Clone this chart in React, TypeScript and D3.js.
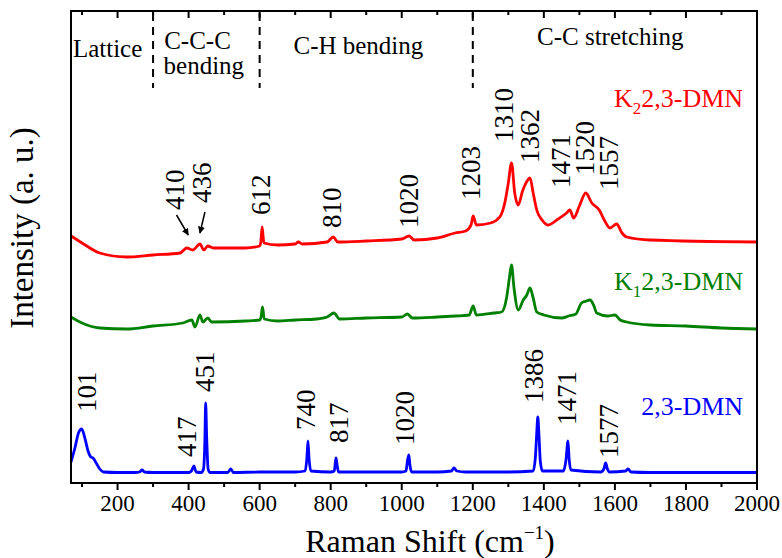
import React from 'react';
import * as d3 from 'd3';

// Raman spectra, [wavenumber (cm-1), intensity (a.u., stacked offsets included)]
const pureDMN: [number, number][] = [
  [69, 21], [80, 35], [90, 50], [99, 54], [108, 45], [117, 32], [125, 26], [131, 25],
  [140, 20], [150, 14], [160, 11], [200, 10.5], [250, 10.5], [262, 11], [269, 13], [276, 11],
  [300, 10.5], [400, 10.5], [408, 12], [415, 17], [421, 11], [436, 10.5], [442, 14], [446, 45],
  [448, 80], [451, 45], [455, 14], [460, 10.5], [510, 10.5], [519, 14], [526, 10.5], [600, 11],
  [700, 11], [728, 12], [733, 25], [736, 42], [739, 25], [744, 12], [800, 11], [810, 12],
  [813, 20], [815, 25], [818, 18], [822, 11], [1000, 11], [1012, 12], [1016, 22], [1020, 28],
  [1023, 18], [1028, 11], [1100, 11], [1140, 12], [1147, 15], [1155, 12], [1180, 11], [1300, 11],
  [1370, 12], [1376, 25], [1380, 50], [1383, 66], [1386, 50], [1390, 22], [1396, 12], [1455, 12],
  [1462, 22], [1468, 42], [1471, 25], [1476, 13], [1560, 11], [1569, 14], [1574, 20], [1579, 14],
  [1585, 11], [1630, 12], [1637, 14], [1645, 11], [1700, 10.5], [2000, 10.5],
];

const k1DMN: [number, number][] = [
  [69, 166], [100, 160], [150, 155], [226, 154], [300, 157], [384, 160], [409, 163], [418, 156],
  [432, 168], [440, 161], [454, 165], [465, 161], [560, 162], [600, 163], [604, 166], [608, 176],
  [613, 164], [650, 162], [700, 163], [760, 164], [790, 166], [809, 170], [825, 164], [900, 165],
  [1000, 166], [1016, 169], [1030, 165], [1100, 166], [1150, 167], [1190, 168], [1201, 177],
  [1210, 168], [1260, 170], [1281, 171], [1295, 185], [1303, 205], [1309, 218], [1316, 195],
  [1328, 173], [1342, 183], [1352, 188], [1361, 195], [1370, 185], [1380, 171], [1400, 168],
  [1450, 165], [1470, 167], [1490, 169], [1506, 180], [1520, 182], [1530, 183], [1540, 178],
  [1549, 170], [1580, 167], [1600, 168], [1615, 163], [1633, 161], [1700, 158], [1800, 157],
  [1900, 155], [2000, 154],
];

const k2DMN: [number, number][] = [
  [69, 247], [100, 240], [150, 230], [226, 226], [300, 228], [376, 230], [395, 235], [412, 233],
  [432, 239], [443, 233], [454, 237], [470, 235], [560, 235], [600, 237], [603, 240], [607, 256],
  [612, 240], [650, 238], [700, 239], [709, 241], [720, 239], [790, 241], [807, 246], [820, 241],
  [900, 242], [1000, 244], [1021, 247], [1035, 243], [1100, 245], [1150, 250], [1180, 252],
  [1195, 258], [1201, 267], [1210, 258], [1250, 260], [1276, 266], [1290, 280], [1300, 300],
  [1309, 320], [1318, 290], [1328, 278], [1340, 292], [1347, 298], [1361, 305], [1370, 290],
  [1380, 273], [1395, 263], [1412, 258], [1440, 264], [1464, 270], [1473, 273], [1484, 265],
  [1500, 277], [1518, 290], [1535, 280], [1556, 273], [1570, 263], [1586, 255], [1605, 259],
  [1620, 250], [1633, 246], [1700, 243], [2000, 241],
];

// peak labels: [text, wavenumber at label foot, intensity at label foot]
const k2Peaks: [string, number, number][] = [
  ['410', 387, 273], ['436', 463, 280], ['612', 629, 268], ['810', 829, 255],
  ['1020', 1046, 255], ['1203', 1220, 283], ['1310', 1313, 341], ['1362', 1386, 320],
  ['1471', 1473, 295], ['1520', 1541, 308], ['1557', 1609, 293],
];
const dmnPeaks: [string, number, number][] = [
  ['101', 139, 71], ['417', 421, 26], ['451', 471, 91], ['740', 756, 53], ['817', 849, 40],
  ['1020', 1034, 38], ['1386', 1397, 80], ['1471', 1490, 58], ['1577', 1609, 25],
];
// arrows pointing to 410 / 436: [x0, y0, x1, y1]
const arrows: [number, number, number, number][] = [
  [366, 268, 399, 248],
  [446, 271, 432, 250],
];

const regionBounds = [300, 600, 1200];
const regionLabels: [string, number, number][] = [
  ['Lattice', 172, 426],
  ['C-C-C', 425, 434],
  ['bending', 443, 409],
  ['C-H bending', 878, 429],
  ['C-C stretching', 1587, 438],
];

// series names: [prefix, subscript, colour, intensity of baseline]
const seriesNames: [string, string, string, number][] = [
  ['K', '2', '#ff0000', 376],
  ['K', '1', '#008000', 193],
  ['', '', '#0000ff', 68],
];

const majorTicks = d3.range(200, 2001, 200);
const minorTicks = d3.range(100, 2000, 200);

const W = 782;
const H = 558;
const plot = { left: 71, right: 757, top: 11, bottom: 483 };
const serif = { fontFamily: "'Liberation Serif'" };

const x = d3.scaleLinear().domain([69, 2000]).range([plot.left, plot.right]);
const y = d3.scaleLinear().domain([0, 472]).range([plot.bottom, plot.top]);

const line = d3.line<[number, number]>()
  .x(d => x(d[0]))
  .y(d => y(d[1]))
  .curve(d3.curveMonotoneX);

const spectra: [[number, number][], string][] = [
  [pureDMN, '#0000ff'],
  [k1DMN, '#008000'],
  [k2DMN, '#ff0000'],
];

export default function App() {
  return (
    <svg
      width={W}
      height={H}
      style={{ position: 'absolute', left: 0, top: 0, background: '#fff' }}
    >
      <defs>
        <marker id="arrowhead" viewBox="0 0 10 10" refX={9} refY={5}
          markerWidth={7} markerHeight={7} markerUnits="userSpaceOnUse" orient="auto">
          <path d="M0,0 L10,5 L0,10 z" fill="#000" />
        </marker>
      </defs>

      {spectra.map(([data, color]) => (
        <path key={color} d={line(data) || ''} fill="none" stroke={color}
          strokeWidth={2.8} strokeLinejoin="round" />
      ))}

      <rect x={plot.left} y={plot.top} width={plot.right - plot.left}
        height={plot.bottom - plot.top} fill="none" stroke="#000" strokeWidth={2} />

      <g stroke="#000" strokeWidth={2}>
        {majorTicks.map(t => (
          <g key={'M' + t}>
            <line x1={x(t)} x2={x(t)} y1={plot.bottom} y2={plot.bottom + 7} />
            <line x1={x(t)} x2={x(t)} y1={plot.top} y2={plot.top + 7} />
          </g>
        ))}
        {minorTicks.map(t => (
          <g key={'m' + t}>
            <line x1={x(t)} x2={x(t)} y1={plot.bottom} y2={plot.bottom + 4} />
            <line x1={x(t)} x2={x(t)} y1={plot.top} y2={plot.top + 4} />
          </g>
        ))}
      </g>

      {majorTicks.map(t => (
        <text key={'l' + t} x={x(t)} y={511} textAnchor="middle" fontSize={23} style={serif}>{t}</text>
      ))}

      <text x={430} y={552} textAnchor="middle" fontSize={32} style={serif}>
        <tspan>Raman Shift (cm</tspan>
        <tspan fontSize={19} dy={-13}>{'\u22121'}</tspan>
        <tspan dy={13}>)</tspan>
      </text>
      <text transform="translate(33,228) rotate(-90)" textAnchor="middle" fontSize={33} style={serif}>
        Intensity (a. u.)
      </text>

      {regionBounds.map(b => (
        <line key={'b' + b} x1={x(b)} x2={x(b)} y1={y(470)} y2={y(395)}
          stroke="#000" strokeWidth={2} strokeDasharray="8,6" />
      ))}
      {regionLabels.map(([t, w, h]) => (
        <text key={t} x={x(w)} y={y(h)} textAnchor="middle" fontSize={25} style={serif}>{t}</text>
      ))}

      {[...k2Peaks, ...dmnPeaks].map(([t, w, h], i) => (
        <text key={'p' + i} transform={`translate(${x(w)},${y(h)}) rotate(-90)`} fontSize={27} style={serif}>{t}</text>
      ))}

      {arrows.map(([w0, h0, w1, h1], i) => (
        <line key={'a' + i} x1={x(w0)} y1={y(h0)} x2={x(w1)} y2={y(h1)}
          stroke="#000" strokeWidth={1.5} markerEnd="url(#arrowhead)" />
      ))}

      {seriesNames.map(([pre, sub, color, h]) => (
        <text key={color} x={x(1961)} y={y(h)} textAnchor="end" fontSize={26} fill={color} style={serif}>
          {sub ? (
            <>
              <tspan>{pre}</tspan>
              <tspan fontSize={17} dy={7}>{sub}</tspan>
              <tspan dy={-7}>2,3-DMN</tspan>
            </>
          ) : '2,3-DMN'}
        </text>
      ))}
    </svg>
  );
}
